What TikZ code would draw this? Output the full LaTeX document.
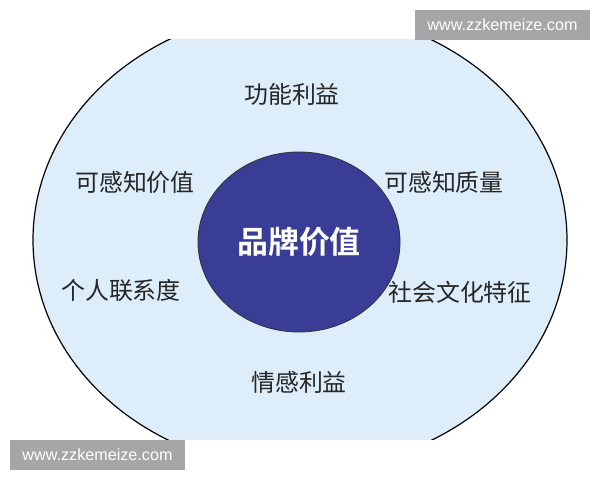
\documentclass[tikz,border=0pt]{standalone}
\usepackage{fontspec}
\newfontfamily\cjk{Noto Sans CJK SC}
\newfontfamily\cjkbold{Noto Sans CJK SC Bold}
\setsansfont{Liberation Sans}
\definecolor{skyfill}{RGB}{221,237,250}
\definecolor{navy}{RGB}{58,61,150}
\definecolor{markgray}{RGB}{166,166,166}
\newlength\pxu
\setlength\pxu{0.025cm}
\tikzset{
	item/.style={text=black!85, font=\cjk\fontsize{17}{20}\selectfont, inner sep=0pt},
	core/.style={text=white, font=\cjkbold\fontsize{22}{26}\selectfont, inner sep=0pt},
	stamp/.style={fill=markgray, text=white, font=\sffamily\fontsize{11.5}{14}\selectfont,
		minimum width=175\pxu, minimum height=30\pxu, inner sep=0pt}
}
\begin{document}
\begin{tikzpicture}[x=0.025cm, y=0.025cm, line join=round, line cap=round]
			\useasboundingbox (0,0) rectangle (600,480);
			\path (300,240) coordinate (O);
			\path (299,238) coordinate (M);
			% outer ring, cut at top and bottom
			\begin{scope}
				\clip (0,40) rectangle (600,440);
				\draw[fill=skyfill, line width=0.85pt] (O) ellipse (267 and 230);
			\end{scope}
			\draw[fill=navy, draw=black!80, line width=0.6pt] (M) ellipse (101 and 90);
			\node[core] (brand) at (M) {品牌价值};
			\foreach\n/\x/\y/\t in {gongneng/292/386/功能利益, zhijia/135/298/可感知价值,
				zhiliang/444/298/可感知质量, lianxi/121/190/个人联系度,
				wenhua/460/188/社会文化特征, qinggan/299/98/情感利益}
			{\node[item] (\n) at (\x,\y) {\t};}
			% watermarks
			\node[stamp] (marktop) at (502.5,455) {www.zzkemeize.com};
			\node[stamp] (markbot) at (97.5,25) {www.zzkemeize.com};
		\end{tikzpicture}
\end{document}
